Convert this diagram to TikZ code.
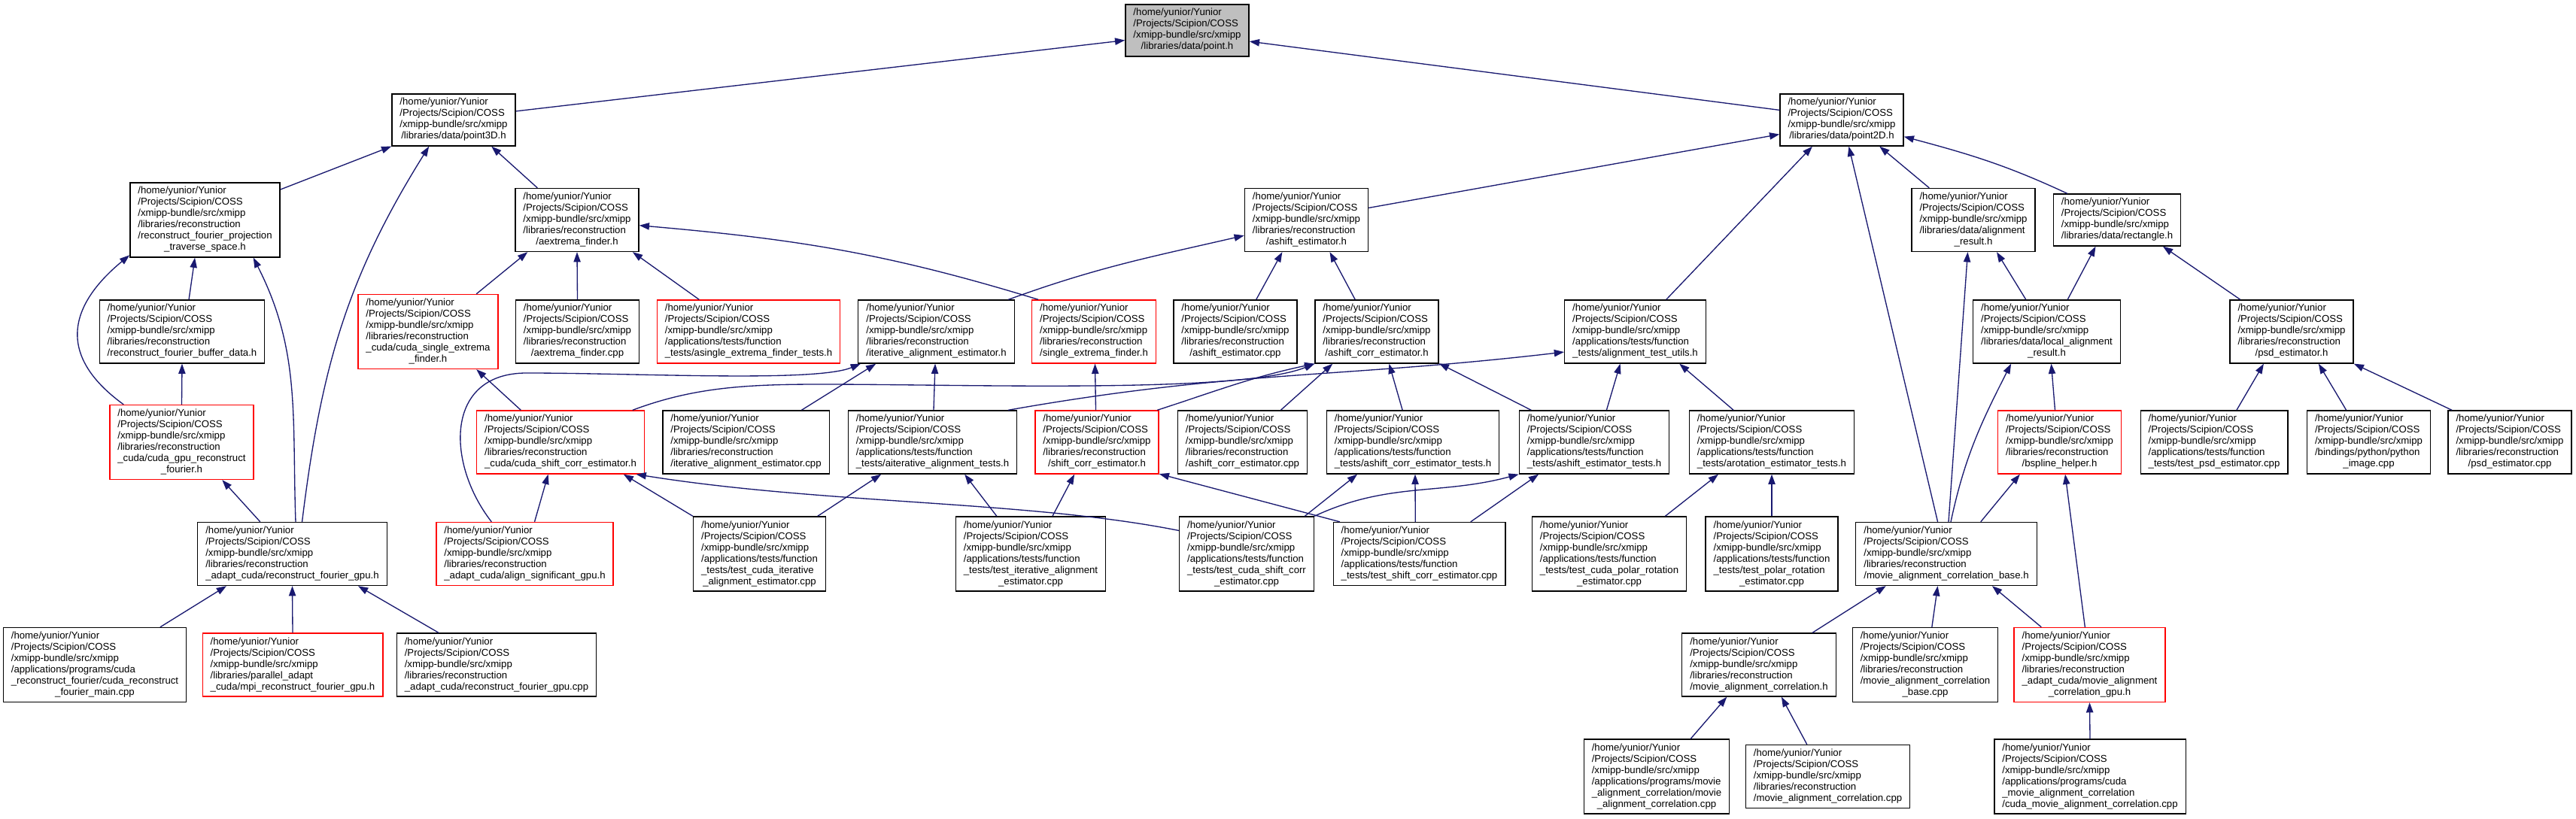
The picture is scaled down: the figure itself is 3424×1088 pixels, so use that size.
\documentclass[tikz,border=0pt]{standalone}
\usepackage{fontspec}
\setmainfont{Liberation Sans}
\usetikzlibrary{arrows.meta}
\definecolor{dxblue}{RGB}{25,25,112}
\definecolor{dxred}{RGB}{255,0,0}
\definecolor{dxgray}{RGB}{191,191,191}
\tikzset{every picture/.style={line width=1.33pt}}
% file label: three common lines, middle lines (#1, each ended by \\), centred last line (#2)
\newcommand{\fpath}[2]{%
  \begin{tabular}{@{}l@{}}%
  /home/yunior/Yunior\\/Projects/Scipion/COSS\\/xmipp-bundle/src/xmipp\\#1%
  \multicolumn{1}{@{}c@{}}{#2}%
  \end{tabular}}

\begin{document}
\begin{tikzpicture}[
	x=1pt, y=1pt,
	fbox/.style={draw=black, fill=white, line width=1.33pt, inner xsep=10.5pt, inner ysep=4.5pt, font=\fontsize{13.2}{15}\selectfont},
	fbox trunc/.style={fbox, draw=dxred},
	fbox root/.style={fbox, fill=dxgray},
	dep/.style={draw=dxblue, line width=1.33pt, -{Triangle[length=13.3pt, width=9.3pt]}}
	]
	
	\fill[white] (0,0) rectangle (3424,1088);
	\useasboundingbox (0,0) rectangle (3424,1088);
	
	% --- rank 0 ---
	\node[fbox root] (point) at (1578,1047.5) {\fpath{}{/libraries/data/point.h}};
	
	% --- rank 1 ---
	\node[fbox] (pthreeD) at (603,928.5) {\fpath{}{/libraries/data/point3D.h}};
	\node[fbox] (ptwoD) at (2448,928.5) {\fpath{}{/libraries/data/point2D.h}};
	
	% --- rank 2 ---
	\node[fbox] (traverse) at (272.5,795.5) {\fpath{/libraries/reconstruction\\/reconstruct\_fourier\_projection\\}{\_traverse\_space.h}};
	\node[fbox] (aextrema) at (767,795.5) {\fpath{/libraries/reconstruction\\}{/aextrema\_finder.h}};
	\node[fbox] (ashift) at (1736.5,795.5) {\fpath{/libraries/reconstruction\\}{/ashift\_estimator.h}};
	\node[fbox] (alignres) at (2623,795.5) {\fpath{/libraries/data/alignment\\}{\_result.h}};
	\node[fbox] (rect) at (2814,795.5) {\fpath{}{/libraries/data/rectangle.h}};
	
	% --- rank 3 ---
	\node[fbox] (bufferdata) at (242,647) {\fpath{/libraries/reconstruction\\}{/reconstruct\_fourier\_buffer\_data.h}};
	\node[fbox trunc] (cudasingle) at (569,647) {\fpath{/libraries/reconstruction\\\_cuda/cuda\_single\_extrema\\}{\_finder.h}};
	\node[fbox] (aextremacpp) at (767.5,647) {\fpath{/libraries/reconstruction\\}{/aextrema\_finder.cpp}};
	\node[fbox trunc] (asingletests) at (995,647) {\fpath{/applications/tests/function\\}{\_tests/asingle\_extrema\_finder\_tests.h}};
	\node[fbox] (iterest) at (1244.5,647) {\fpath{/libraries/reconstruction\\}{/iterative\_alignment\_estimator.h}};
	\node[fbox trunc] (singleext) at (1454,647) {\fpath{/libraries/reconstruction\\}{/single\_extrema\_finder.h}};
	\node[fbox] (ashiftcpp) at (1642,647) {\fpath{/libraries/reconstruction\\}{/ashift\_estimator.cpp}};
	\node[fbox] (ashiftcorr) at (1830,647) {\fpath{/libraries/reconstruction\\}{/ashift\_corr\_estimator.h}};
	\node[fbox] (testutils) at (2173.5,647) {\fpath{/applications/tests/function\\}{\_tests/alignment\_test\_utils.h}};
	\node[fbox] (localres) at (2720.5,647) {\fpath{/libraries/data/local\_alignment\\}{\_result.h}};
	\node[fbox] (psdest) at (3046,647) {\fpath{/libraries/reconstruction\\}{/psd\_estimator.h}};
	
	% --- rank 4 ---
	\node[fbox trunc] (cudagpurec) at (241.5,500) {\fpath{/libraries/reconstruction\\\_cuda/cuda\_gpu\_reconstruct\\}{\_fourier.h}};
	\node[fbox trunc] (cudashift) at (745,500) {\fpath{/libraries/reconstruction\\}{\_cuda/cuda\_shift\_corr\_estimator.h}};
	\node[fbox] (itercpp) at (991.5,500) {\fpath{/libraries/reconstruction\\}{/iterative\_alignment\_estimator.cpp}};
	\node[fbox] (aitertests) at (1239.5,500) {\fpath{/applications/tests/function\\}{\_tests/aiterative\_alignment\_tests.h}};
	\node[fbox trunc] (shiftcorr) at (1458,500) {\fpath{/libraries/reconstruction\\}{/shift\_corr\_estimator.h}};
	\node[fbox] (ashiftcorrcpp) at (1651.5,500) {\fpath{/libraries/reconstruction\\}{/ashift\_corr\_estimator.cpp}};
	\node[fbox] (ashiftcorrtests) at (1878,500) {\fpath{/applications/tests/function\\}{\_tests/ashift\_corr\_estimator\_tests.h}};
	\node[fbox] (ashifttests) at (2119,500) {\fpath{/applications/tests/function\\}{\_tests/ashift\_estimator\_tests.h}};
	\node[fbox] (arottests) at (2355,500) {\fpath{/applications/tests/function\\}{\_tests/arotation\_estimator\_tests.h}};
	\node[fbox trunc] (bspline) at (2737.5,500) {\fpath{/libraries/reconstruction\\}{/bspline\_helper.h}};
	\node[fbox] (testpsd) at (2943,500) {\fpath{/applications/tests/function\\}{\_tests/test\_psd\_estimator.cpp}};
	\node[fbox] (pyimage) at (3148.5,500) {\fpath{/bindings/python/python\\}{\_image.cpp}};
	\node[fbox] (psdcpp) at (3336,500) {\fpath{/libraries/reconstruction\\}{/psd\_estimator.cpp}};
	
	% --- rank 5 ---
	\node[fbox] (rfgh) at (388.5,351.5) {\fpath{/libraries/reconstruction\\}{\_adapt\_cuda/reconstruct\_fourier\_gpu.h}};
	\node[fbox trunc] (alignsig) at (697.5,351.5) {\fpath{/libraries/reconstruction\\}{\_adapt\_cuda/align\_significant\_gpu.h}};
	\node[fbox] (testcudaiter) at (1009.5,351.5) {\fpath{/applications/tests/function\\\_tests/test\_cuda\_iterative\\}{\_alignment\_estimator.cpp}};
	\node[fbox] (testiter) at (1370,351.5) {\fpath{/applications/tests/function\\\_tests/test\_iterative\_alignment\\}{\_estimator.cpp}};
	\node[fbox] (testcudashift) at (1657,351.5) {\fpath{/applications/tests/function\\\_tests/test\_cuda\_shift\_corr\\}{\_estimator.cpp}};
	\node[fbox] (testshift) at (1886.5,351.5) {\fpath{/applications/tests/function\\}{\_tests/test\_shift\_corr\_estimator.cpp}};
	\node[fbox] (testcudapolar) at (2139,351.5) {\fpath{/applications/tests/function\\\_tests/test\_cuda\_polar\_rotation\\}{\_estimator.cpp}};
	\node[fbox] (testpolar) at (2355,351.5) {\fpath{/applications/tests/function\\\_tests/test\_polar\_rotation\\}{\_estimator.cpp}};
	\node[fbox] (moviebase) at (2587,351.5) {\fpath{/libraries/reconstruction\\}{/movie\_alignment\_correlation\_base.h}};
	
	% --- rank 6 ---
	\node[fbox] (cudarecmain) at (126,204) {\fpath{/applications/programs/cuda\\\_reconstruct\_fourier/cuda\_reconstruct\\}{\_fourier\_main.cpp}};
	\node[fbox trunc] (mpirfg) at (389,204) {\fpath{/libraries/parallel\_adapt\\}{\_cuda/mpi\_reconstruct\_fourier\_gpu.h}};
	\node[fbox] (rfgcpp) at (660,204) {\fpath{/libraries/reconstruction\\}{\_adapt\_cuda/reconstruct\_fourier\_gpu.cpp}};
	\node[fbox] (macorr) at (2338,204) {\fpath{/libraries/reconstruction\\}{/movie\_alignment\_correlation.h}};
	\node[fbox] (moviebasecpp) at (2559,204) {\fpath{/libraries/reconstruction\\/movie\_alignment\_correlation\\}{\_base.cpp}};
	\node[fbox trunc] (macgpu) at (2777.5,204) {\fpath{/libraries/reconstruction\\\_adapt\_cuda/movie\_alignment\\}{\_correlation\_gpu.h}};
	
	% --- rank 7 ---
	\node[fbox] (macprog) at (2202,55.5) {\fpath{/applications/programs/movie\\\_alignment\_correlation/movie\\}{\_alignment\_correlation.cpp}};
	\node[fbox] (maccpp) at (2429.5,55.5) {\fpath{/libraries/reconstruction\\}{/movie\_alignment\_correlation.cpp}};
	\node[fbox] (cudamovie) at (2778,55.5) {\fpath{/applications/programs/cuda\\\_movie\_alignment\_correlation\\}{/cuda\_movie\_alignment\_correlation.cpp}};
	
	% --- includes of point.h ---
	\draw[dep] (pthreeD.8) -- (point.189);
	\draw[dep] (ptwoD.171) -- (point.350);
	
	% --- point3D.h ---
	\draw[dep] (traverse.22) -- (pthreeD.203);
	\draw[dep] (rfgh.73) to[out=83, in=238] (pthreeD.227);
	\draw[dep] (aextrema.141) -- (pthreeD.325);
	
	% --- reconstruct_fourier_projection_traverse_space.h ---
	\draw[dep] (bufferdata.78) -- (traverse.255);
	\draw[dep] (cudagpurec.147) .. controls +(-95,69) and +(-75,-62) .. (traverse.205);
	\draw[dep] (rfgh.84) to[out=92, in=297] (traverse.322);
	\draw[dep] (cudagpurec.north) -- (bufferdata.south);
	\draw[dep] (rfgh.135) -- (cudagpurec.317);
	
	% --- reconstruct_fourier_gpu.h ---
	\draw[dep] (cudarecmain.30) -- (rfgh.206);
	\draw[dep] (mpirfg.north) -- (rfgh.south);
	\draw[dep] (rfgcpp.151) -- (rfgh.334);
	
	% --- aextrema_finder.h ---
	\draw[dep] (cudasingle.38) -- (aextrema.213);
	\draw[dep] (aextremacpp.north) -- (aextrema.south);
	\draw[dep] (asingletests.147) -- (aextrema.330);
	\draw[dep] (singleext.150) to[out=163, in=355] (aextrema.355);
	\draw[dep] (cudashift.141) -- (cudasingle.322);
	
	% --- point2D.h ---
	\draw[dep] (ashift.11) -- (ptwoD.193);
	\draw[dep] (testutils.46) -- (ptwoD.222);
	\draw[dep] (moviebase.105) -- (ptwoD.285);
	\draw[dep] (alignres.144) -- (ptwoD.325);
	\draw[dep] (rect.152) to[out=155, in=345] (ptwoD.345);
	
	% --- ashift_estimator.h ---
	\draw[dep] (iterest.24) to[out=20, in=193] (ashift.194);
	\draw[dep] (ashiftcpp.57) -- (ashift.233);
	\draw[dep] (ashiftcorr.124) -- (ashift.306);
	
	% --- iterative_alignment_estimator.h ---
	\draw[dep] (alignsig.136) .. controls +(-60,77) and +(-110,0) .. (700,592) .. controls +(150,0) and +(-60,-25) .. (iterest.203);
	\draw[dep] (itercpp.30) -- (iterest.208);
	\draw[dep] (aitertests.88) -- (iterest.268);
	\draw[dep] (shiftcorr.92) -- (singleext.272);
	
	% --- ashift_corr_estimator.h ---
	\draw[dep] (cudashift.24) .. controls +(80,30) and +(-100,0) .. (1090,577) .. controls +(200,0) and +(-100,-40) .. (ashiftcorr.south west);
	\draw[dep] (shiftcorr.28) to[out=18, in=192] (ashiftcorr.south west);
	\draw[dep] (ashiftcorrcpp.40) -- (ashiftcorr.216);
	\draw[dep] (ashiftcorrtests.108) -- (ashiftcorr.291);
	\draw[dep] (ashifttests.153) -- (ashiftcorr.333);
	
	% --- alignment_test_utils.h ---
	\draw[dep] (ashifttests.69) -- (testutils.245);
	\draw[dep] (arottests.140) -- (testutils.324);
	\draw[dep] (aitertests.23) .. controls +(300,53) and +(-300,-35) .. (testutils.196);
	
	% --- alignment_result.h, rectangle.h, local_alignment_result.h ---
	\draw[dep] (localres.123) -- (alignres.306);
	\draw[dep] (localres.57) -- (rect.231);
	\draw[dep] (psdest.148) -- (rect.330);
	\draw[dep] (bspline.98) -- (localres.278);
	\draw[dep] (moviebase.82) to[out=78, in=243] (localres.222);
	\draw[dep] (moviebase.86) -- (alignres.260);
	\draw[dep] (moviebase.43) -- (bspline.219);
	\draw[dep] (macgpu.97) -- (bspline.280);
	
	% --- psd_estimator.h ---
	\draw[dep] (testpsd.55) -- (psdest.229);
	\draw[dep] (pyimage.125) -- (psdest.310);
	\draw[dep] (psdcpp.151) -- (psdest.south east);
	
	% --- cuda_shift_corr_estimator.h ---
	\draw[dep] (alignsig.73) -- (cudashift.249);
	\draw[dep] (testcudaiter.north west) -- (cudashift.333);
	\draw[dep] (testcudashift.161) .. controls +(-200,40) and +(250,-40) .. (cudashift.337);
	
	% --- test headers ---
	\draw[dep] (testcudaiter.33) -- (aitertests.212);
	\draw[dep] (testiter.132) -- (aitertests.315);
	\draw[dep] (testiter.60) -- (shiftcorr.235);
	\draw[dep] (testshift.158) -- (shiftcorr.333);
	\draw[dep] (testcudashift.33) -- (ashiftcorrtests.210);
	\draw[dep] (testcudashift.north east) to[out=25, in=195] (ashifttests.south west);
	\draw[dep] (testshift.97) -- (ashiftcorrtests.274);
	\draw[dep] (testshift.32) -- (ashifttests.210);
	\draw[dep] (testcudapolar.34) -- (arottests.211);
	\draw[dep] (testpolar.north) -- (arottests.south);
	
	% --- movie_alignment_correlation_base.h ---
	\draw[dep] (macorr.31) -- (moviebase.208);
	\draw[dep] (moviebasecpp.80) -- (moviebase.255);
	\draw[dep] (macgpu.142) -- (moviebase.325);
	\draw[dep] (macprog.48) -- (macorr.225);
	\draw[dep] (maccpp.123) -- (macorr.305);
	\draw[dep] (cudamovie.north) -- (macgpu.south);
	
\end{tikzpicture}
\end{document}
